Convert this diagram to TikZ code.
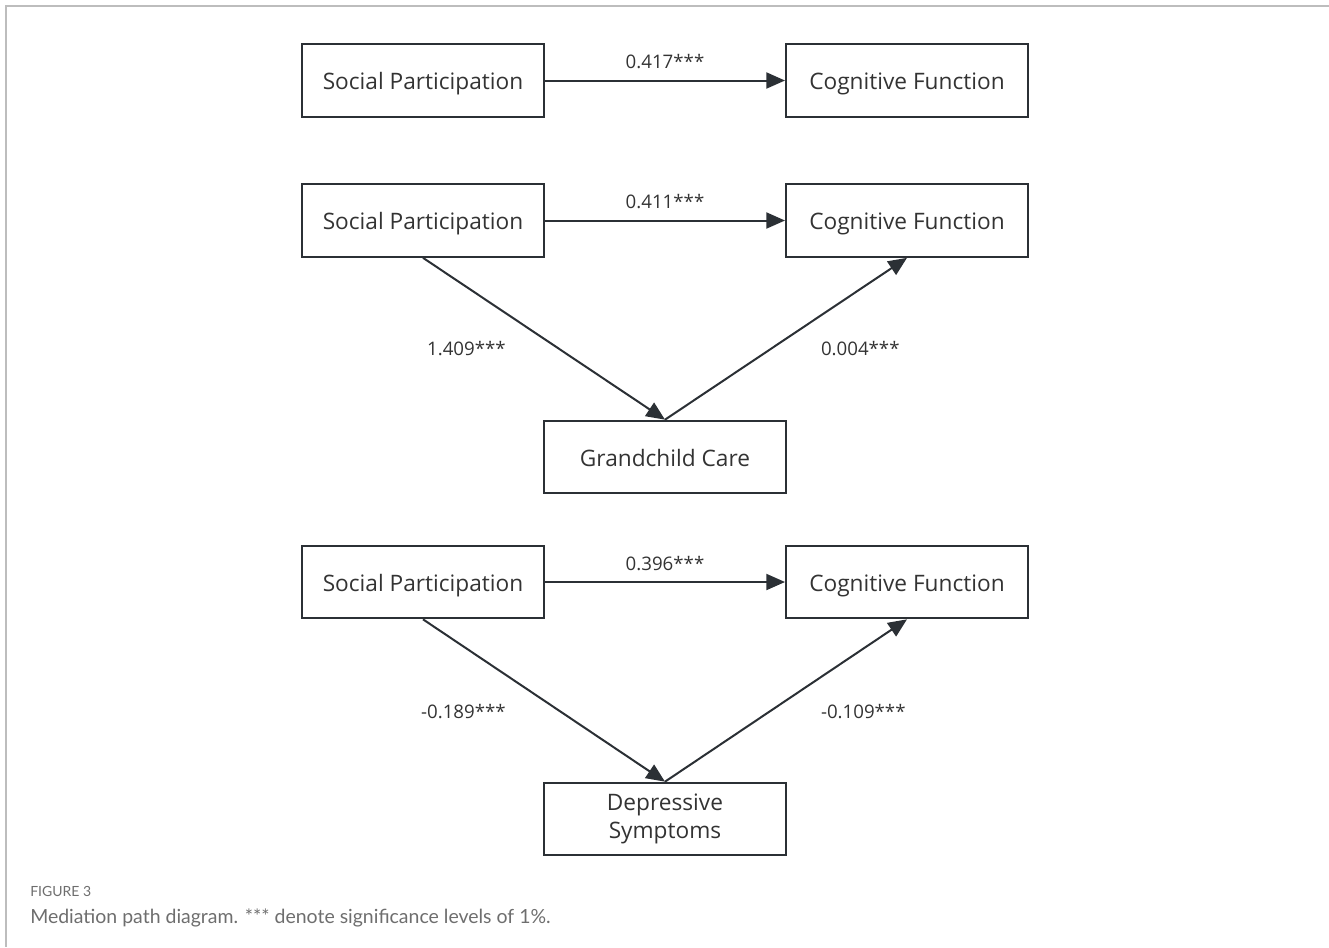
\documentclass[tikz,border=0pt]{standalone}
\usepackage{fontspec}
\setmainfont{Open Sans}
\newfontfamily\capfont{Lato}
\usetikzlibrary{arrows.meta, positioning}

\definecolor{boxline}{HTML}{2B3035}
\definecolor{txt}{HTML}{333333}
\definecolor{capgray}{HTML}{6E6E6E}
\definecolor{framegray}{HTML}{BDBDBD}

\tikzset{
  var/.style = {draw=boxline, line width=1.5pt, minimum width=181.5pt, minimum height=54.5pt,
    inner sep=0pt, align=center, text=txt, font=\fontsize{17}{20.5}\selectfont,
    text height=18pt, text depth=4pt},
  effect/.style = {draw=boxline, line width=1.5pt, -{Triangle[length=14pt, width=12pt]}},
  coef/.style = {text=txt, font=\fontsize{14}{16}\selectfont, inner sep=0pt},
}

\begin{document}
\begin{tikzpicture}[x=0.75pt, y=-0.75pt]
\useasboundingbox (0,0) rectangle (1329,947);
\draw[framegray, line width=1.5pt] (1329,6) -- (6,6) -- (6,947);

% total effect
\node[var] (sp1) at (423,80.5) {Social Participation};
\node[var, right=180pt of sp1] (cf1) {Cognitive Function};
\draw[effect] (sp1) -- node[coef, midway, yshift=14pt] {0.417***} (cf1);

% grandchild care as mediator
\node[var] (sp2) at (423,220.5) {Social Participation};
\node[var, right=180pt of sp2] (cf2) {Cognitive Function};
\node[var] (gc) at (665,457) {Grandchild Care};
\draw[effect] (sp2) -- node[coef, midway, yshift=14pt] {0.411***} (cf2);
\draw[effect] (sp2.south) -- node[coef, midway, anchor=east, xshift=-28pt, yshift=-7.5pt] {1.409***} (gc.north);
\draw[effect] (gc.north) -- node[coef, midway, anchor=west, xshift=25.5pt, yshift=-7.5pt] {0.004***} (cf2.south);

% depressive symptoms as mediator
\node[var, text height=, text depth=] (ds) at (665,819) {Depressive\\Symptoms};
\node[var] (sp3) at (423,582) {Social Participation};
\node[var, right=180pt of sp3] (cf3) {Cognitive Function};
\draw[effect] (sp3) -- node[coef, midway, yshift=14pt] {0.396***} (cf3);
\draw[effect] (sp3.south) -- node[coef, midway, anchor=east, xshift=-28pt, yshift=-8.5pt] {-0.189***} (ds.north);
\draw[effect] (ds.north) -- node[coef, midway, anchor=west, xshift=25.5pt, yshift=-8.5pt] {-0.109***} (cf3.south);

% caption
\node[anchor=west, inner sep=0pt, text=capgray, font=\capfont\fontsize{10.5}{12}\selectfont] (fig) at (30,891) {FIGURE 3};
\node[anchor=west, inner sep=0pt, text=capgray, font=\capfont\fontsize{14.6}{17}\selectfont] (cap) at (30,918) {Mediation path diagram. *** denote significance levels of 1\%.};
\end{tikzpicture}
\end{document}
